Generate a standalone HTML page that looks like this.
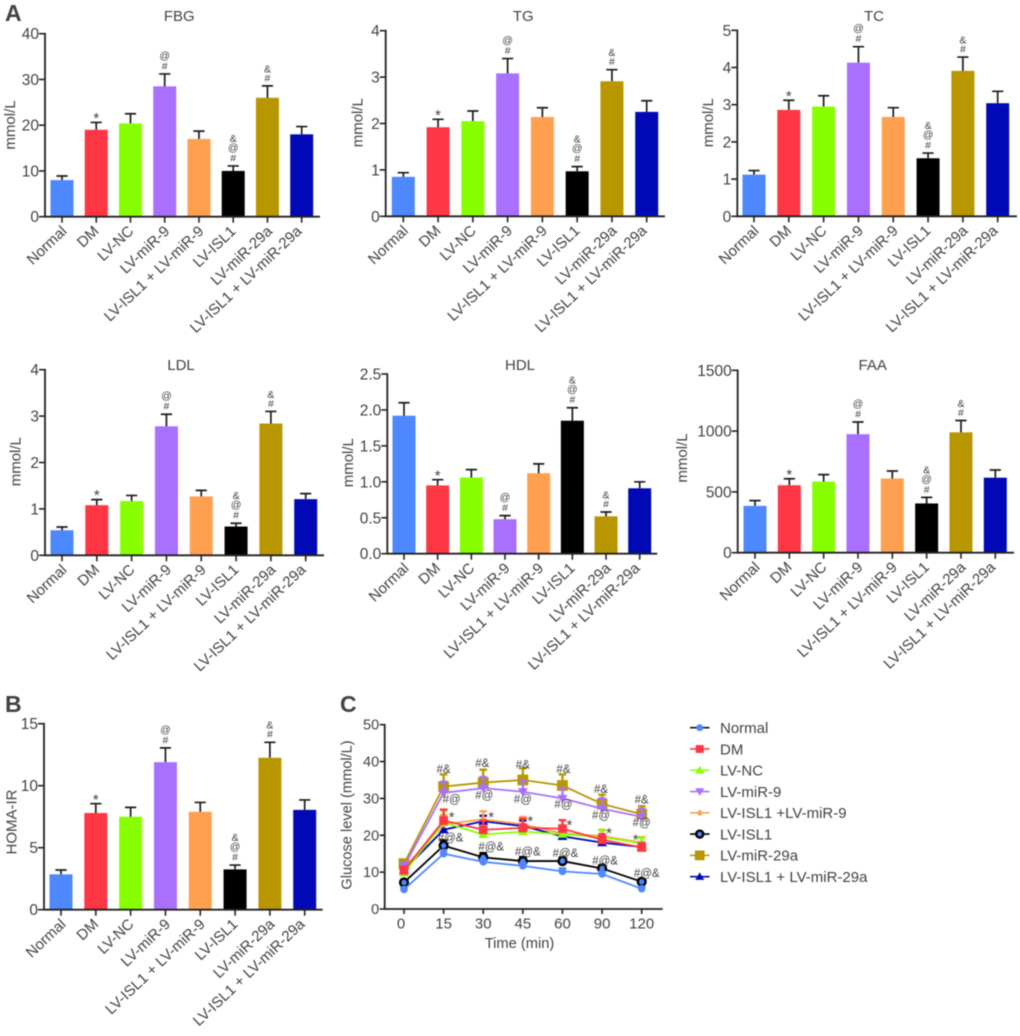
<!DOCTYPE html>
<html lang="en">
<head>
<meta charset="utf-8">
<title>Metabolic indices and glucose level charts</title>
<style>
html,body{margin:0;padding:0;background:#fff;}
#figure{display:block;width:1020px;height:1036px;filter:blur(0.4px);font-family:"Liberation Sans",Arial,sans-serif;}
text{fill:#424242;font-family:"Liberation Sans",Arial,sans-serif;}
</style>
</head>
<body>
<svg id="figure" xmlns="http://www.w3.org/2000/svg" width="1020" height="1036" viewBox="0 0 1020 1036">
  <text x="5" y="21" font-size="23" font-weight="700">A</text>
  <text x="5" y="712" font-size="23" font-weight="700">B</text>
  <text x="340" y="712" font-size="23" font-weight="700">C</text>
</svg>
<script>
const groupLabels = ["Normal","DM","LV-NC","LV-miR-9","LV-ISL1 + LV-miR-9","LV-ISL1","LV-miR-29a","LV-ISL1 + LV-miR-29a"];
const groupColors = ["#4d88ff","#ff3644","#88ff00","#a970ff","#ffa050","#000000","#b89600","#0009b5"];
const significance = ["","*","","#@","","#@&","#&",""];

const fbgValues = [8,19,20.4,28.5,17,10,26,18];
const fbgTops = [8.9,20.6,22.5,31.2,18.7,11.1,28.6,19.7];
const fbgTicks = ["0","10","20","30","40"];

const tgValues = [0.85,1.92,2.05,3.08,2.14,0.97,2.91,2.25];
const tgTops = [0.94,2.09,2.27,3.4,2.34,1.07,3.16,2.49];
const tgTicks = ["0","1","2","3","4"];

const tcValues = [1.12,2.86,2.95,4.13,2.67,1.56,3.91,3.04];
const tcTops = [1.23,3.12,3.24,4.56,2.92,1.7,4.28,3.36];
const tcTicks = ["0","1","2","3","4","5"];

const ldlValues = [0.54,1.08,1.17,2.78,1.27,0.62,2.84,1.21];
const ldlTops = [0.61,1.2,1.29,3.04,1.4,0.69,3.1,1.33];
const ldlTicks = ["0","1","2","3","4"];

const hdlValues = [1.92,0.95,1.06,0.48,1.12,1.85,0.52,0.91];
const hdlTops = [2.1,1.03,1.17,0.53,1.25,2.03,0.58,1.0];
const hdlTicks = ["0.0","0.5","1.0","1.5","2.0","2.5"];

const faaValues = [385,555,585,975,610,405,990,617];
const faaTops = [428,608,642,1075,672,455,1087,680];
const faaTicks = ["0","500","1000","1500"];

const homaValues = [2.85,7.8,7.5,11.9,7.9,3.25,12.25,8.05];
const homaTops = [3.2,8.55,8.25,13.05,8.65,3.6,13.5,8.85];
const homaTicks = ["0","5","10","15"];

const timeLabels = ["0","15","30","45","60","90","120"];
const glucoseTicks = ["0","10","20","30","40","50"];
const normalGlucose = [5.3,15,12.8,11.7,10.2,9.5,5.5];
const normalError = [0.5,1,0.8,0.8,0.8,0.7,0.5];
const dmGlucose = [10.5,24,21.5,22,21.8,18.8,16.7];
const dmError = [1,3,2.5,2.5,2.3,1.5,1.2];
const ncGlucose = [9.8,23.5,20.2,21,20.3,19.5,17.8];
const ncError = [0.8,3.2,1.5,1.5,1.5,1.8,1.5];
const mir9Glucose = [11.5,31.5,32.8,31.8,30,27.2,25];
const mir9Error = [1,3,3,3,2.8,2.8,2.2];
const islMir9Glucose = [11,23,24.3,23,20.5,19.8,18];
const islMir9Error = [1,2.5,2.2,2,1.5,1.7,1.5];
const islGlucose = [7.2,17.2,14,13,13,11,7.4];
const islError = [0.7,1.4,1.2,1.1,1,0.9,0.7];
const mir29Glucose = [12.3,33.2,34.3,35,33.5,28.5,25.7];
const mir29Error = [1,3.3,3.5,3.2,3,2.5,2.2];
const islMir29Glucose = [10.5,21.5,23.8,22.5,19.7,18,16.8];
const islMir29Error = [0.8,2,1.5,1.5,1.5,1.2,1.2];

const noteHashAmp = [37.9,39.5,39.2,37.9,32.5,29.7];
const noteHashAt = [29.8,30.9,29.8,28.4,25.5,23.4];
const noteStar = [25.6,25.6,24.5,23.4,21.3,19.6];
const noteHashAtAmp = [19.3,16.9,15.5,15.1,13.1,9.7];

const axisColor = "#222222";
const NS = "http://www.w3.org/2000/svg";
const svg = document.getElementById("figure");

function mk(tag, attrs, parent, txt){
  const el = document.createElementNS(NS, tag);
  for (const k in attrs) el.setAttribute(k, attrs[k]);
  if (txt !== undefined) el.textContent = txt;
  parent.appendChild(el);
  return el;
}
function slug(s){ return s.toLowerCase().replace(/[^a-z0-9]+/g,"-"); }
function labelShift(label){
  if (label === "LV-ISL1 + LV-miR-29a") return 1;
  if (label === "DM" || label === "LV-ISL1") return 3.5;
  if (label === "LV-NC") return 4;
  return 5.7;
}

function drawBarPanel(o){
  const g = mk("g", {}, svg);
  
  
  const maxV = parseFloat(o.ticks[o.ticks.length-1]);
  const yScale = v => o.y0 - (v / maxV) * (o.y0 - o.yTop);
  const xScale = i => o.c0 + i * (o.c1 - o.c0) / (o.values.length - 1);
  if (o.title) {
    const title = mk("text", {x:o.titleX, y:o.titleY, "font-size":15, "text-anchor":"middle"}, g, o.title);
    
    
  }
  const yLab = mk("text", {transform:"translate("+o.labelX+","+o.labelY+") rotate(-90)", "font-size":15, "text-anchor":"middle"}, g, o.yLabel);
  
  
  o.values.forEach((v,i) => {
    const cx = xScale(i), top = yScale(o.tops[i]), yv = yScale(v);
    const bar = mk("rect", {x:cx-11.5, y:yv, width:23, height:o.y0-yv, fill:groupColors[i]}, g);
    
    
    const err = mk("path", {d:"M"+cx+" "+yv+"V"+top+"M"+(cx-5.6)+" "+top+"H"+(cx+5.6), stroke:"#1c1c1c", "stroke-width":1.7, fill:"none"}, g);
    
    
    const marks = significance[i];
    if (marks === "*") {
      const star = mk("text", {x:cx, y:top+0.6, "font-size":15, "text-anchor":"middle"}, g, "*");
      
      
    } else {
      let off = 4.6;
      for (let k = 0; k < marks.length; k++) {
        if (k > 0) off += marks[k] === "@" ? 10.5 : 9;
        const sym = mk("text", {x:cx, y:top-off, "font-size":10.5, "text-anchor":"middle", fill:"#555"}, g, marks[k]);
        
        
      }
    }
    const tick = mk("line", {x1:cx, x2:cx, y1:o.y0, y2:o.y0+6, stroke:axisColor, "stroke-width":1.6}, g);
    
    
    const lab = mk("text", {transform:"translate("+(cx+labelShift(groupLabels[i]))+","+(o.y0+15.5)+") rotate(-43.5)", "font-size":15, "text-anchor":"end"}, g, groupLabels[i]);
    
    
  });
  o.ticks.forEach(t => {
    const y = yScale(parseFloat(t));
    const tk = mk("line", {x1:o.axisX-6, x2:o.axisX, y1:y, y2:y, stroke:axisColor, "stroke-width":1.6}, g);
    
    
    const lb = mk("text", {x:o.axisX-6, y:y+5.5, "font-size":15.5, "text-anchor":"end"}, g, t);
    
    
  });
  const axes = mk("path", {d:"M"+o.axisX+" "+(o.yTop-0.8)+"V"+o.y0+"H"+o.xEnd, stroke:axisColor, "stroke-width":1.8, fill:"none"}, g);
  
  
}

drawBarPanel({id:"fbg",title:"FBG",yLabel:"mmol/L",values:fbgValues,tops:fbgTops,ticks:fbgTicks,axisX:45,xEnd:320,yTop:33.7,y0:216.7,c0:62,c1:301.7,titleX:179.3,titleY:21,labelX:15,labelY:125});
drawBarPanel({id:"tg",title:"TG",yLabel:"mmol/L",values:tgValues,tops:tgTops,ticks:tgTicks,axisX:385.7,xEnd:665,yTop:30.7,y0:216.3,c0:403.3,c1:646.7,titleX:523.3,titleY:21,labelX:362.7,labelY:122.7});
drawBarPanel({id:"tc",title:"TC",yLabel:"mmol/L",values:tcValues,tops:tcTops,ticks:tcTicks,axisX:737.3,xEnd:1017,yTop:30.3,y0:216.3,c0:754,c1:997.7,titleX:874,titleY:21,labelX:713,labelY:122.7});
drawBarPanel({id:"ldl",title:"LDL",yLabel:"mmol/L",values:ldlValues,tops:ldlTops,ticks:ldlTicks,axisX:45,xEnd:324,yTop:369.7,y0:555.3,c0:62,c1:305.7,titleX:181,titleY:370,labelX:20.7,labelY:461.7});
drawBarPanel({id:"hdl",title:"HDL",yLabel:"mmol/L",values:hdlValues,tops:hdlTops,ticks:hdlTicks,axisX:387.3,xEnd:657.3,yTop:374,y0:553.7,c0:404,c1:639.7,titleX:520,titleY:370,labelX:353,labelY:462.7});
drawBarPanel({id:"faa",title:"FAA",yLabel:"mmol/L",values:faaValues,tops:faaTops,ticks:faaTicks,axisX:737.7,xEnd:1014,yTop:370.3,y0:552.7,c0:755,c1:995.3,titleX:872.7,titleY:370,labelX:687,labelY:458});
drawBarPanel({id:"homa",title:"",yLabel:"HOMA-IR",values:homaValues,tops:homaTops,ticks:homaTicks,axisX:44,xEnd:322.7,yTop:723.7,y0:909.7,c0:61,c1:304.7,titleX:180,titleY:712,labelX:16.7,labelY:822});

/* Line chart */
const lineChart = mk("g", {}, svg);


const lcLeft = 384.7, lcRight = 662.7, lcTop = 724.7, lcBottom = 909, lcX0 = 404, lcX1 = 641.7;
const yG = v => lcBottom - (v / parseFloat(glucoseTicks[glucoseTicks.length-1])) * (lcBottom - lcTop);
const xG = i => lcX0 + i * (lcX1 - lcX0) / (timeLabels.length - 1);

function marker(parent, kind, x, y, color, k){
  const s = k || 1;
  if (kind === "circle") return mk("circle", {cx:x, cy:y, r:3.8*s, fill:color}, parent);
  if (kind === "square") return mk("rect", {x:x-4.4*s, y:y-4.4*s, width:8.8*s, height:8.8*s, fill:color}, parent);
  if (kind === "bigsquare") return mk("rect", {x:x-5.4*s, y:y-5.4*s, width:10.8*s, height:10.8*s, fill:color}, parent);
  if (kind === "up") return mk("path", {d:"M"+x+" "+(y-4.8*s)+"L"+(x+5*s)+" "+(y+3.6*s)+"H"+(x-5*s)+"Z", fill:color}, parent);
  if (kind === "down") return mk("path", {d:"M"+x+" "+(y+4.8*s)+"L"+(x+5*s)+" "+(y-3.6*s)+"H"+(x-5*s)+"Z", fill:color}, parent);
  if (kind === "diamond") return mk("path", {d:"M"+x+" "+(y-3.8*s)+"L"+(x+3.8*s)+" "+y+"L"+x+" "+(y+3.8*s)+"L"+(x-3.8*s)+" "+y+"Z", fill:color}, parent);
  return mk("circle", {cx:x, cy:y, r:3.9*s, fill:"#4d88ff", stroke:"#000", "stroke-width":2.4}, parent);
}

const seriesOrder = [
  {id:"normal",label:"Normal",color:groupColors[0],kind:"circle",vals:normalGlucose,errs:normalError,legendLine:"#111111"},
  {id:"dm",label:"DM",color:groupColors[1],kind:"square",vals:dmGlucose,errs:dmError,legendLine:groupColors[1]},
  {id:"lv-nc",label:"LV-NC",color:groupColors[2],kind:"up",vals:ncGlucose,errs:ncError,legendLine:groupColors[2]},
  {id:"lv-mir-9",label:"LV-miR-9",color:groupColors[3],kind:"down",vals:mir9Glucose,errs:mir9Error,legendLine:groupColors[3]},
  {id:"lv-isl1-lv-mir-9",label:"LV-ISL1 +LV-miR-9",color:groupColors[4],kind:"diamond",vals:islMir9Glucose,errs:islMir9Error,legendLine:groupColors[4]},
  {id:"lv-isl1",label:"LV-ISL1",color:groupColors[5],kind:"ring",vals:islGlucose,errs:islError,legendLine:"#000000"},
  {id:"lv-mir-29a",label:"LV-miR-29a",color:groupColors[6],kind:"bigsquare",vals:mir29Glucose,errs:mir29Error,legendLine:groupColors[6]},
  {id:"lv-isl1-lv-mir-29a",label:"LV-ISL1 + LV-miR-29a",color:groupColors[7],kind:"up",vals:islMir29Glucose,errs:islMir29Error,legendLine:groupColors[7]}
];

seriesOrder.slice().reverse().forEach(s => {
  const sg = mk("g", {}, lineChart);
  
  
  s.vals.forEach((v,i) => {
    const x = xG(i), yy = yG(v), t = yG(v + s.errs[i]);
    const eb = mk("path", {d:"M"+x+" "+yy+"V"+t+"M"+(x-3.8)+" "+t+"H"+(x+3.8), stroke:s.color, "stroke-width":2.3, fill:"none"}, sg);
    
    
  });
  const pts = s.vals.map((v,i) => xG(i) + "," + yG(v)).join(" ");
  const pl = mk("polyline", {points:pts, fill:"none", stroke:s.color, "stroke-width":1.8}, sg);
  
  
  s.vals.forEach((v,i) => {
    const m = marker(sg, s.kind, xG(i), yG(v), s.color);
    
    
  });
});

function notes(values, text, dxs, size, cls){
  values.forEach((v,i) => {
    const n = mk("text", {x:xG(i+1)+dxs[i], y:yG(v)+(text==="*"?7.5:3.8), "font-size":size, "text-anchor":"middle"}, lineChart, text);
    
    
  });
}
notes(noteHashAmp, "#&", [0,-1,0,1,-1,0], 11.5, 'annotation-hash-amp');
notes(noteHashAt, "#@", [8,1,0,1,-1,0], 11.5, 'annotation-hash-at');
notes(noteStar, "*", [8,8,7.5,7,7,-6], 15, 'annotation-star');
notes(noteHashAtAmp, "#@&", [7,8,5,3,3,5], 11.5, 'annotation-hash-at-amp');

glucoseTicks.forEach(t => {
  const y = yG(parseFloat(t));
  const tk = mk("line", {x1:lcLeft-5, x2:lcLeft, y1:y, y2:y, stroke:axisColor, "stroke-width":1.6}, lineChart);
  
  
  const lb = mk("text", {x:lcLeft-5.5, y:y+5, "font-size":14.5, "text-anchor":"end"}, lineChart, t);
  
  
});
timeLabels.forEach((t,i) => {
  const x = xG(i);
  const tk = mk("line", {x1:x, x2:x, y1:lcBottom, y2:lcBottom+5, stroke:axisColor, "stroke-width":1.6}, lineChart);
  
  
  const lb = mk("text", {x:x-(i===0?3:0), y:lcBottom+19.5, "font-size":15, "text-anchor":"middle"}, lineChart, t);
  
  
});
const lcAxes = mk("path", {d:"M"+lcLeft+" "+(lcTop-0.8)+"V"+lcBottom+"H"+lcRight, stroke:axisColor, "stroke-width":1.8, fill:"none"}, lineChart);


const lcXTitle = mk("text", {x:519.5, y:948, "font-size":14.7, "text-anchor":"middle"}, lineChart, "Time (min)");


const lcYTitle = mk("text", {transform:"translate(351.7,815) rotate(-90)", "font-size":14.6, "text-anchor":"middle"}, lineChart, "Glucose level (mmol/L)");



/* Legend */
const legend = mk("g", {}, svg);


seriesOrder.forEach((s,i) => {
  const y = 727.7 + i * 21.28;
  const row = mk("g", {}, legend);
  
  
  const ln = mk("line", {x1:690, x2:709.5, y1:y, y2:y, stroke:s.legendLine, "stroke-width":1.6}, row);
  
  
  const mm = marker(row, s.kind, 699.7, y, s.color, 0.9);
  
  
  const tx = mk("text", {x:720, y:y+5.3, "font-size":15}, row, s.label);
  
  
});
</script>
</body>
</html>
